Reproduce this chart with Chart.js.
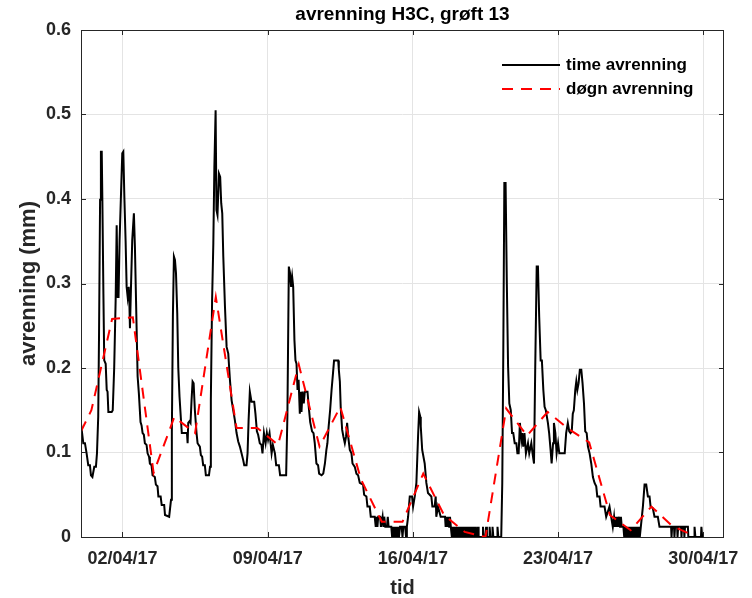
<!DOCTYPE html>
<html lang="no">
<head>
<meta charset="UTF-8">
<title>avrenning H3C, grøft 13</title>
<script src="https://cdn.jsdelivr.net/npm/chart.js"></script>
<style>
  html, body { margin: 0; padding: 0; background: #fff; }
  #wrap { width: 752px; height: 598px; }
</style>
</head>
<body>
<div id="wrap"><canvas id="avrChart" width="752" height="598"></canvas></div>
<script>
// tid i døgn fra 31/03/17 00:00
const hourDays = [
  0.00, 0.11, 0.19, 0.27, 0.35, 0.43, 0.48, 0.55, 0.64, 0.72, 0.77, 0.83, 0.87, 0.92, 0.96, 1.00,
  1.03, 1.08, 1.12, 1.19, 1.24, 1.28, 1.32, 1.48, 1.53, 1.60, 1.67, 1.72, 1.77, 1.81, 1.86, 1.93,
  1.99, 2.04, 2.09, 2.15, 2.20, 2.25, 2.30, 2.33, 2.36, 2.41, 2.47, 2.55, 2.60, 2.67, 2.73, 2.79,
  2.87, 2.92, 2.97, 3.03, 3.08, 3.16, 3.21, 3.28, 3.32, 3.40, 3.45, 3.56, 3.61, 3.69, 3.73, 3.84,
  3.89, 4.01, 4.05, 4.25, 4.34, 4.38, 4.43, 4.48, 4.53, 4.58, 4.64, 4.69, 4.75, 4.82, 4.86, 5.01,
  5.11, 5.14, 5.17, 5.23, 5.28, 5.33, 5.38, 5.43, 5.49, 5.57, 5.62, 5.73, 5.78, 5.84, 5.89, 5.97,
  6.02, 6.17, 6.22, 6.26, 6.32, 6.38, 6.43, 6.49, 6.53, 6.58, 6.65, 6.71, 6.76, 6.81, 6.86, 6.94,
  7.02, 7.10, 7.18, 7.26, 7.34, 7.42, 7.50, 7.58, 7.66, 7.74, 7.82, 7.87, 7.98, 8.03, 8.08, 8.14,
  8.22, 8.35, 8.41, 8.48, 8.54, 8.62, 8.70, 8.75, 8.82, 8.90, 8.96, 9.02, 9.09, 9.19, 9.25, 9.35,
  9.41, 9.54, 9.60, 9.89, 9.95, 10.02, 10.08, 10.13, 10.18, 10.23, 10.29, 10.34, 10.39, 10.44, 10.49, 10.55,
  10.60, 10.63, 10.68, 10.74, 10.79, 10.92, 10.98, 11.05, 11.14, 11.21, 11.27, 11.35, 11.43, 11.48, 11.60, 11.68,
  11.76, 11.83, 11.88, 11.94, 12.01, 12.08, 12.15, 12.20, 12.40, 12.43, 12.48, 12.52, 12.59, 12.65, 12.72, 12.78,
  12.83, 12.88, 12.96, 13.04, 13.09, 13.20, 13.28, 13.36, 13.44, 13.60, 13.65, 13.76, 13.81, 13.92, 13.97, 14.16,
  14.21, 14.25, 14.29, 14.33, 14.42, 14.46, 14.54, 14.58, 14.62, 14.67, 14.75, 14.79, 14.83, 14.96, 15.00, 15.04,
  15.08, 15.13, 15.17, 15.21, 15.25, 15.29, 15.33, 15.38, 15.46, 15.50, 15.54, 15.63, 15.67, 15.71, 15.77,
  15.85, 15.96, 16.01, 16.09, 16.17, 16.25, 16.30, 16.36, 16.38, 16.45, 16.57, 16.65, 16.73, 16.89, 16.94, 17.05,
  17.10, 17.13, 17.21, 17.34, 17.55, 17.58, 17.63, 17.67, 17.71, 17.75, 17.79, 17.83,
  17.88, 17.92, 17.96, 18.00, 18.04, 18.08, 18.13, 18.17, 18.21, 18.25, 18.29, 18.33, 18.38, 18.42, 18.46,
  18.50, 18.54, 18.58, 18.63, 18.67, 18.71, 18.75, 18.79, 18.83, 18.88, 18.92, 18.96, 19.00, 19.04,
  19.12, 19.14, 19.17, 19.36, 19.38, 19.42, 19.51, 19.53, 19.57, 19.68, 19.70, 19.74, 19.82, 19.84, 19.88,
  20.06, 20.08, 20.12,
  20.26, 20.31, 20.36, 20.41, 20.47, 20.53, 20.59, 20.65, 20.72, 20.78, 20.84, 20.91, 20.99, 21.04, 21.10, 21.16,
  21.23, 21.27, 21.32, 21.38, 21.45, 21.55, 21.61, 21.71, 21.77, 21.84, 21.90, 21.97, 22.03, 22.09, 22.16, 22.22,
  22.29, 22.35, 22.41, 22.51, 22.57, 22.64, 22.69, 22.76, 22.80, 22.87, 22.93, 23.00, 23.06, 23.32, 23.39, 23.47,
  23.54, 23.60, 23.66, 23.71, 23.76, 23.83, 23.88, 23.93, 23.99, 24.05, 24.12, 24.18, 24.25, 24.31, 24.38, 24.44,
  24.52, 24.60, 24.68, 24.76, 24.84, 24.89, 25.00, 25.05, 25.24, 25.32, 25.48, 25.56, 25.64,
  25.70, 25.74, 25.78, 25.82, 25.86, 25.90, 25.95, 25.99, 26.03, 26.07, 26.15,
  26.19, 26.23, 26.28, 26.32, 26.36, 26.40, 26.44, 26.49, 26.53, 26.57,
  26.61, 26.65, 26.69, 26.74, 26.78, 26.82, 26.86, 26.90, 26.94, 26.99,
  27.09, 27.17, 27.25, 27.33, 27.41, 27.46, 27.57, 27.65, 27.81, 27.89,
  28.45, 28.47, 28.50, 28.59, 28.61, 28.64, 28.74, 28.76, 28.79, 28.93, 28.95, 28.98,
  29.07, 29.09, 29.12, 29.26, 29.28, 29.56, 29.58, 29.62, 29.89, 29.91, 29.95, 29.98
];
const hourValues = [
  0.134, 0.111, 0.111, 0.099, 0.085, 0.085, 0.073, 0.071, 0.083, 0.083, 0.099, 0.142, 0.241, 0.399, 0.456, 0.456,
  0.399, 0.288, 0.209, 0.205, 0.174, 0.172, 0.148, 0.148, 0.150, 0.200, 0.280, 0.369, 0.284, 0.284, 0.351, 0.407,
  0.454, 0.456, 0.403, 0.351, 0.296, 0.284, 0.296, 0.280, 0.247, 0.296, 0.351, 0.383, 0.343, 0.260, 0.190, 0.170,
  0.136, 0.132, 0.123, 0.121, 0.111, 0.109, 0.099, 0.095, 0.087, 0.085, 0.073, 0.071, 0.062, 0.060, 0.048, 0.048,
  0.038, 0.038, 0.026, 0.024, 0.044, 0.123, 0.261, 0.332, 0.328, 0.312, 0.265, 0.200, 0.166, 0.138, 0.123, 0.123,
  0.123, 0.111, 0.135, 0.137, 0.135, 0.162, 0.184, 0.182, 0.150, 0.123, 0.111, 0.107, 0.097, 0.095, 0.085, 0.085,
  0.073, 0.073, 0.083, 0.162, 0.280, 0.348, 0.438, 0.505, 0.387, 0.381, 0.430, 0.426, 0.395, 0.383, 0.332, 0.273,
  0.225, 0.217, 0.186, 0.162, 0.150, 0.138, 0.123, 0.113, 0.107, 0.099, 0.091, 0.085, 0.085, 0.099, 0.138, 0.172,
  0.160, 0.160, 0.146, 0.125, 0.121, 0.111, 0.109, 0.099, 0.123, 0.111, 0.123, 0.115, 0.123, 0.099, 0.109, 0.099,
  0.085, 0.085, 0.073, 0.073, 0.142, 0.320, 0.312, 0.296, 0.308, 0.296, 0.233, 0.209, 0.205, 0.174, 0.186, 0.146,
  0.172, 0.148, 0.172, 0.158, 0.172, 0.172, 0.154, 0.136, 0.125, 0.123, 0.111, 0.087, 0.085, 0.075, 0.073, 0.075,
  0.087, 0.103, 0.111, 0.131, 0.150, 0.174, 0.194, 0.209, 0.209, 0.198, 0.184, 0.154, 0.127, 0.119, 0.111, 0.119,
  0.135, 0.119, 0.103, 0.099, 0.087, 0.083, 0.075, 0.073, 0.064, 0.062, 0.050, 0.048, 0.036, 0.036, 0.024, 0.024,
  0.012, 0.024, 0.012, 0.024, 0.024, 0.012, 0.024, 0.012, 0.024, 0.012, 0.012, 0.024, 0.012, 0.012, 0.000, 0.012,
  0.000, 0.012, 0.000, 0.012, 0.000, 0.012, 0.000, 0.012, 0.012, 0.000, 0.012, 0.012, 0.000, 0.012, 0.024,
  0.048, 0.048, 0.036, 0.048, 0.064, 0.119, 0.148, 0.142, 0.131, 0.103, 0.087, 0.064, 0.052, 0.048, 0.036, 0.036,
  0.048, 0.024, 0.036, 0.024, 0.024, 0.012, 0.024, 0.012, 0.024, 0.012, 0.024, 0.012,
  0.000, 0.012, 0.000, 0.012, 0.000, 0.012, 0.000, 0.012, 0.000, 0.012, 0.000, 0.012, 0.000, 0.012, 0.000,
  0.012, 0.000, 0.012, 0.000, 0.012, 0.000, 0.012, 0.000, 0.012, 0.000, 0.012, 0.000, 0.012, 0.000,
  0.000, 0.012, 0.000, 0.000, 0.012, 0.000, 0.000, 0.012, 0.000, 0.000, 0.012, 0.000, 0.000, 0.012, 0.000,
  0.000, 0.012, 0.000,
  0.000, 0.064, 0.221, 0.419, 0.419, 0.300, 0.202, 0.158, 0.150, 0.123, 0.123, 0.111, 0.111, 0.099, 0.099, 0.135,
  0.115, 0.123, 0.107, 0.123, 0.099, 0.111, 0.099, 0.111, 0.099, 0.087, 0.202, 0.320, 0.320, 0.261, 0.209, 0.209,
  0.174, 0.154, 0.150, 0.135, 0.123, 0.103, 0.087, 0.111, 0.135, 0.123, 0.099, 0.111, 0.099, 0.099, 0.123, 0.135,
  0.125, 0.123, 0.125, 0.146, 0.150, 0.174, 0.184, 0.174, 0.182, 0.198, 0.198, 0.182, 0.158, 0.125, 0.123, 0.107,
  0.099, 0.087, 0.071, 0.064, 0.060, 0.048, 0.048, 0.036, 0.036, 0.024, 0.036, 0.024, 0.012,
  0.024, 0.012, 0.024, 0.012, 0.024, 0.012, 0.024, 0.012, 0.024, 0.012, 0.012,
  0.000, 0.012, 0.000, 0.012, 0.000, 0.012, 0.000, 0.012, 0.000, 0.012,
  0.000, 0.012, 0.000, 0.012, 0.000, 0.012, 0.000, 0.012, 0.000, 0.012,
  0.036, 0.062, 0.062, 0.048, 0.048, 0.036, 0.034, 0.024, 0.024, 0.012,
  0.012, 0.000, 0.012, 0.012, 0.000, 0.012, 0.012, 0.000, 0.012, 0.012, 0.000, 0.012,
  0.012, 0.000, 0.012, 0.012, 0.000, 0.000, 0.012, 0.000, 0.000, 0.012, 0.000, 0.000
];

// døgnverdier (midt på dagen)
const dayDays = [0, 0.5, 1.5, 2.5, 3.5, 4.5, 5.5, 6.5, 7.5, 8.5, 9.5, 10.5, 11.5, 12.5, 13.5, 14.5,
  15.5, 16.5, 17.5, 18.5, 19.5, 20.5, 21.5, 22.5, 23.5, 24.5, 25.5, 26.5, 27.5, 28.5, 29.5];
const dayValues = [0.125, 0.150, 0.258, 0.260, 0.076, 0.142, 0.123, 0.284, 0.129, 0.129, 0.109, 0.204,
  0.107, 0.154, 0.068, 0.018, 0.018, 0.075, 0.026, 0.006, 0.000, 0.152, 0.120, 0.148, 0.128, 0.112,
  0.026, 0.008, 0.036, 0.013, 0.002];

const tickDays = [2, 9, 16, 23, 30];
const tickLabels = ['02/04/17', '09/04/17', '16/04/17', '23/04/17', '30/04/17'];
const yTickValues = [0, 0.1, 0.2, 0.3, 0.4, 0.5, 0.6];
const yTickLabels = ['0', '0.1', '0.2', '0.3', '0.4', '0.5', '0.6'];

const fontFamily = "'Liberation Sans', Arial, Helvetica, sans-serif";
const textColor = '#262626';
const gridColor = '#e4e4e4';
const chartTitle = 'avrenning H3C, grøft 13';

if (hourDays.length !== hourValues.length) console.warn('hourly arrays differ', hourDays.length, hourValues.length);

Chart.defaults.font.family = fontFamily;
Chart.defaults.color = textColor;

// ramme rundt plottet + tickmerker innover (som i MATLAB) + tittel over plottet
const framePlugin = {
  id: 'frame',
  afterDraw(chart) {
    const { ctx, chartArea: a, scales: { x, y } } = chart;
    ctx.save();
    ctx.strokeStyle = textColor;
    ctx.lineWidth = 1;
    ctx.strokeRect(a.left + 0.5, a.top + 0.5, a.right - a.left - 1, a.bottom - a.top);
    ctx.beginPath();
    tickDays.forEach(v => {
      const px = Math.round(x.getPixelForValue(v)) + 0.5;
      ctx.moveTo(px, a.bottom); ctx.lineTo(px, a.bottom - 5);
      ctx.moveTo(px, a.top); ctx.lineTo(px, a.top + 5);
    });
    yTickValues.forEach(v => {
      const py = Math.round(y.getPixelForValue(v)) + 0.5;
      ctx.moveTo(a.left, py); ctx.lineTo(a.left + 5, py);
      ctx.moveTo(a.right, py); ctx.lineTo(a.right - 5, py);
    });
    ctx.stroke();

    ctx.fillStyle = '#000';
    ctx.font = 'bold 19px ' + fontFamily;
    ctx.textAlign = 'center';
    ctx.textBaseline = 'middle';
    ctx.fillText(chartTitle, (a.left + a.right) / 2, a.top - 15);
    ctx.restore();
  }
};

// legende inne i plottet, oppe til høyre
const legendPlugin = {
  id: 'insideLegend',
  afterDraw(chart) {
    const { ctx, chartArea: a } = chart;
    ctx.save();
    ctx.font = 'bold 17px ' + fontFamily;
    ctx.textBaseline = 'middle';
    ctx.fillStyle = '#000';
    chart.data.datasets.forEach((ds, i) => {
      const yy = a.top + 35 + i * 24;
      const x0 = a.right - 222;
      ctx.beginPath();
      ctx.setLineDash(ds.borderDash || []);
      ctx.strokeStyle = ds.borderColor;
      ctx.lineWidth = ds.borderWidth;
      ctx.moveTo(x0, yy);
      ctx.lineTo(x0 + 58, yy);
      ctx.stroke();
      ctx.setLineDash([]);
      ctx.fillText(ds.label, x0 + 64, yy);
    });
    ctx.restore();
  }
};

const ctx = document.getElementById('avrChart').getContext('2d');
new Chart(ctx, {
  type: 'line',
  data: {
    datasets: [
      {
        label: 'time avrenning',
        data: hourDays.map((d, i) => ({ x: d, y: hourValues[i] })),
        borderColor: '#000000',
        borderWidth: 2,
        pointRadius: 0,
        tension: 0,
        order: 2
      },
      {
        label: 'døgn avrenning',
        data: dayDays.map((d, i) => ({ x: d, y: dayValues[i] })),
        borderColor: '#ff0000',
        borderWidth: 2,
        borderDash: [11, 8],
        pointRadius: 0,
        tension: 0,
        order: 1
      }
    ]
  },
  options: {
    responsive: false,
    animation: false,
    devicePixelRatio: 1,
    layout: { padding: { left: 0, right: 28, top: 30, bottom: 0 } },
    plugins: {
      legend: { display: false },
      tooltip: { enabled: false },
      title: { display: false }
    },
    scales: {
      x: {
        type: 'linear',
        min: 0,
        max: 31,
        afterBuildTicks: s => { s.ticks = tickDays.map(v => ({ value: v })); },
        afterFit: s => { s.height = 61; },
        ticks: {
          callback: v => tickLabels[tickDays.indexOf(v)],
          font: { size: 18, weight: 'bold' },
          color: textColor,
          padding: 11,
          maxRotation: 0,
          autoSkip: false
        },
        grid: { color: gridColor, drawTicks: false },
        border: { display: false },
        title: {
          display: true,
          text: 'tid',
          color: textColor,
          font: { size: 20, weight: 'bold', lineHeight: 1 },
          padding: 0
        }
      },
      y: {
        min: 0,
        max: 0.6,
        afterBuildTicks: s => { s.ticks = yTickValues.map(v => ({ value: v })); },
        afterFit: s => { s.width = 81; },
        ticks: {
          callback: (v, i) => yTickLabels[i],
          font: { size: 18, weight: 'bold' },
          color: textColor,
          padding: 10
        },
        grid: { color: gridColor, drawTicks: false },
        border: { display: false },
        title: {
          display: true,
          text: 'avrenning (mm)',
          color: textColor,
          font: { size: 22, weight: 'bold' },
          padding: { top: 16, bottom: 0 }
        }
      }
    }
  },
  plugins: [framePlugin, legendPlugin]
});
</script>
</body>
</html>
